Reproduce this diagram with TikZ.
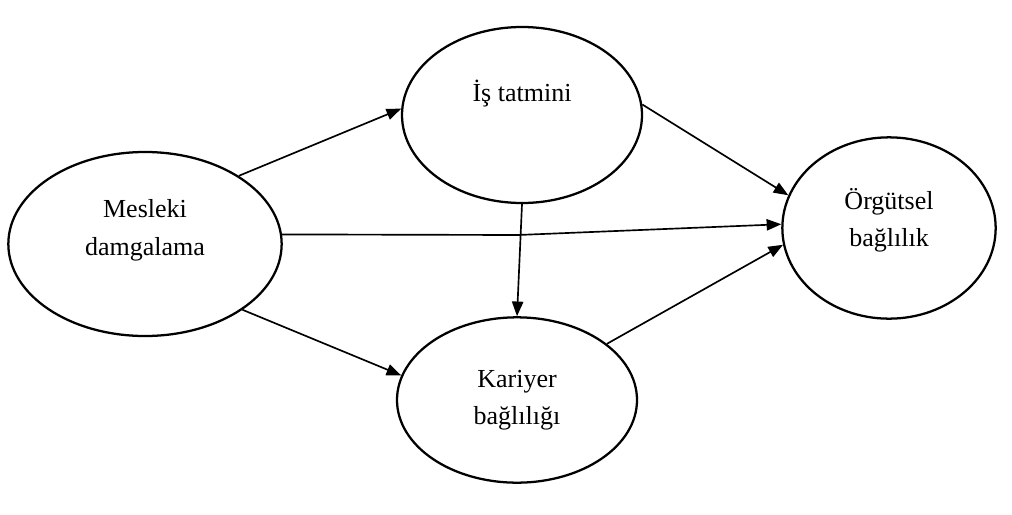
\documentclass[tikz,border=0pt]{standalone}
\usepackage{fontspec}
\setmainfont{Liberation Serif}
\usepackage{tikz}
\usetikzlibrary{arrows.meta,shapes.geometric}

\begin{document}
\begin{tikzpicture}[x=0.75pt,y=-0.75pt]
%konstrukt = ellipse mit text, pfeil = gerichtete beziehung
\tikzstyle{konstrukt} = [draw, ellipse, line width=1.7pt, inner sep=0pt, align=center,
    font=\fontsize{19.5pt}{28pt}\selectfont]
\tikzstyle{pfeil} = [line width=1.25pt, -{Triangle[length=11pt,width=8.5pt]}]
\useasboundingbox (0,0) rectangle (1012,514);

\node[konstrukt, minimum width=205pt, minimum height=138pt, text depth=25pt] (mesleki) at (145,244) {Mesleki\\damgalama};
\node[konstrukt, minimum width=180pt, minimum height=132pt, text depth=37pt] (istatmini) at (522,115) {İş tatmini};
\node[konstrukt, minimum width=180pt, minimum height=124pt] (kariyer) at (517,400) {Kariyer\\bağlılığı};
\node[konstrukt, minimum width=160pt, minimum height=136pt, text depth=16pt] (orgutsel) at (889,228) {Örgütsel\\bağlılık};

%knick der mittleren linie
\coordinate (knick) at (518,235);

\draw[pfeil] (mesleki.36) -- (istatmini.177);
\draw[pfeil] (mesleki.-34) -- (kariyer.168);
\draw[pfeil] (mesleki.4) -- (knick) -- (orgutsel.178);
\draw[pfeil] (istatmini.5) -- (orgutsel.162);
\draw[pfeil] (istatmini.south) -- (kariyer.north);
\draw[pfeil] (kariyer.32) -- (orgutsel.189);
\end{tikzpicture}
\end{document}
